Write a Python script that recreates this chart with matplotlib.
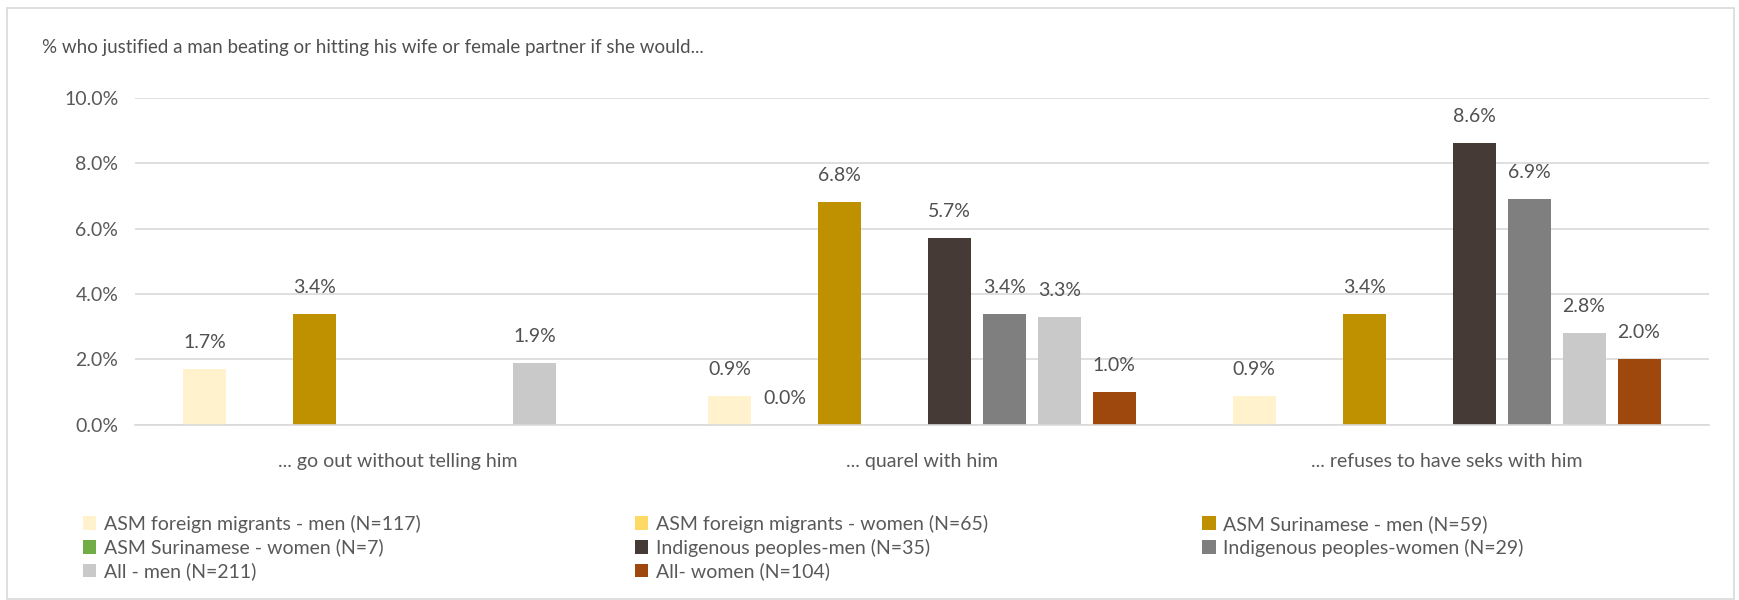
import numpy as np
import matplotlib.pyplot as plt
from matplotlib.patches import Rectangle

# data (percent), NaN = no bar shown
categories = ['... go out without telling him', '... quarel with him', '... refuses to have seks with him']
series = [
    'ASM foreign migrants - men (N=117)',
    'ASM foreign migrants - women (N=65)',
    'ASM Surinamese - men (N=59)',
    'ASM Surinamese - women (N=7)',
    'Indigenous peoples-men (N=35)',
    'Indigenous peoples-women (N=29)',
    'All - men (N=211)',
    'All- women (N=104)',
]
foreign_men = [1.7, 0.9, 0.9]
foreign_women = [np.nan, 0.0, np.nan]
suriname_men = [3.4, 6.8, 3.4]
suriname_women = [np.nan, np.nan, np.nan]
indig_men = [np.nan, 5.7, 8.6]
indig_women = [np.nan, 3.4, 6.9]
all_men = [1.9, 3.3, 2.8]
all_women = [np.nan, 1.0, 2.0]
values = [foreign_men, foreign_women, suriname_men, suriname_women,
          indig_men, indig_women, all_men, all_women]
colors = ['#FFF2CC', '#FFD966', '#BF9000', '#70AD47',
          '#463A36', '#7F7F7F', '#C9C9C9', '#9E480E']

plt.rcParams['font.family'] = ['Lato', 'DejaVu Sans']

fig = plt.figure(figsize=(17.39, 6), dpi=100)
fig.patches.append(Rectangle((0.004, 0.002), 0.993, 0.984, transform=fig.transFigure,
                             fill=False, edgecolor='#D9D9D9', linewidth=1.2))
ax = fig.add_axes([0.0776, 0.2917, 0.9051, 0.5457])

x = np.arange(len(categories))
slot = 0.1048
width = 0.082
for i, (name, vals, c) in enumerate(zip(series, values, colors)):
    pos = x + (i - 3.5) * slot
    v = np.array(vals, dtype=float)
    ax.bar(pos, np.nan_to_num(v), width, color=c, label=name)
    for p, val in zip(pos, v):
        if not np.isnan(val):
            ax.text(p, val + 0.55, f'{val:.1f}%', ha='center', va='bottom',
                    fontsize=14, color='#505050')

ax.set_xlim(-0.5, 2.5)
ax.set_ylim(0, 10)
ax.set_yticks(np.arange(0, 10.1, 2))
ax.set_yticklabels([f'{t:.1f}%' for t in np.arange(0, 10.1, 2)])
ax.set_xticks(x)
ax.set_xticklabels(categories)
ax.tick_params(axis='both', length=0, labelsize=14, colors='#595959')
ax.tick_params(axis='x', pad=20)
ax.tick_params(axis='y', pad=12)
ax.grid(axis='y', color='#D9D9D9', linewidth=1.2)
ax.set_axisbelow(True)
for s in ['top', 'right', 'left']:
    ax.spines[s].set_visible(False)
ax.spines['bottom'].set_color('#D9D9D9')
ax.spines['bottom'].set_linewidth(1.2)

fig.text(0.024, 0.92, '% who justified a man beating or hitting his wife or female partner if she would...',
         fontsize=13.5, color='#505050', va='center')

# legend filled row by row like the original
handles, labels = ax.get_legend_handles_labels()
order = [0, 3, 6, 1, 4, 7, 2, 5]
fig.legend([handles[k] for k in order], [labels[k] for k in order],
           loc='upper left', bbox_to_anchor=(0.043, 0.155),
           ncol=3, frameon=False, fontsize=14, labelcolor='#595959',
           handlelength=0.7, handleheight=0.7, handletextpad=0.4,
           columnspacing=11.0, labelspacing=0.3, borderaxespad=0)

fig.savefig('out.png', dpi=100)
